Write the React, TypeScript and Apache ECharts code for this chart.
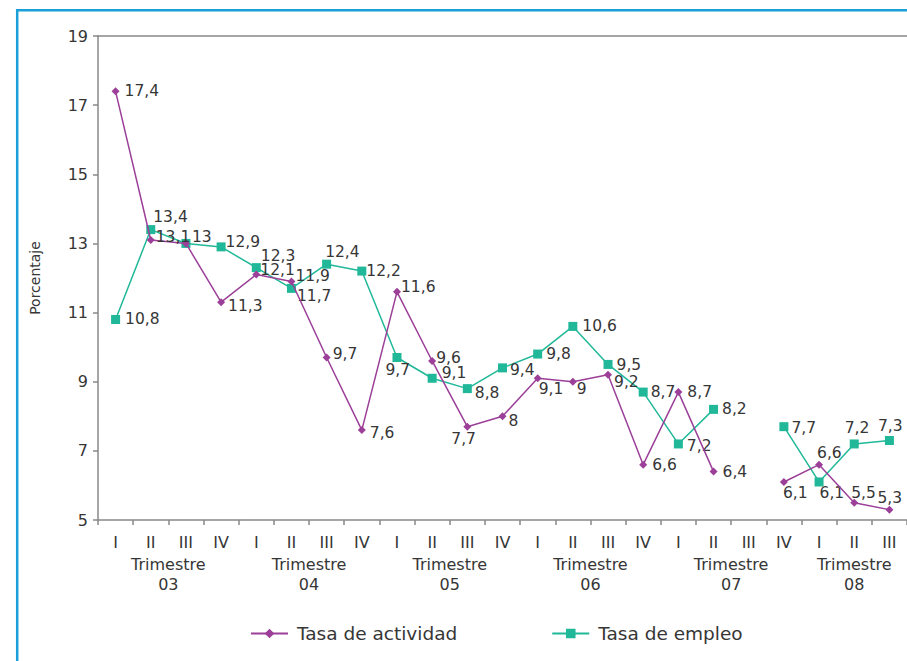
import React, { useEffect, useRef } from 'react';
import * as echarts from 'echarts';

const quarters = ['I', 'II', 'III', 'IV', 'I', 'II', 'III', 'IV', 'I', 'II', 'III', 'IV', 'I', 'II', 'III', 'IV', 'I', 'II', 'III', 'IV', 'I', 'II', 'III'];
const years = ['03', '04', '05', '06', '07', '08'];
const quartersPerYear = [4, 4, 4, 4, 4, 3];
const tasaActividad: (number | null)[] = [17.4, 13.1, 13, 11.3, 12.1, 11.9, 9.7, 7.6, 11.6, 9.6, 7.7, 8, 9.1, 9, 9.2, 6.6, 8.7, 6.4, null, 6.1, 6.6, 5.5, 5.3];
const tasaEmpleo: (number | null)[] = [10.8, 13.4, 13, 12.9, 12.3, 11.7, 12.4, 12.2, 9.7, 9.1, 8.8, 9.4, 9.8, 10.6, 9.5, 8.7, 7.2, 8.2, null, 7.7, 6.1, 7.2, 7.3];
const yTicks = [5, 7, 9, 11, 13, 15, 17, 19];

// label placement tweaks (style only)
const actOffsets: (number[] | null)[] = [
  [0, 0], [-4, -3], [-3, -6], [-2, 4], [-5, -5], [-5, -5], [-3, -4], [-1, 3], [-5, -5], [-5, -3], [-25, 12], [-3, 5],
  [-8, 11], [-5, 7], [-3, 7], [0, 0], [0, 0], [0, 0], null, [-10, 11], [-11, -12], [-12, -10], [-21, -12],
];
const empOffsets: (number[] | null)[] = [
  [0, 0], [-7, -13], null, [-5, -5], [-5, -12], [-4, 8], [-11, -12], [-5, 0], [-21, 12], [0, -5], [-2, 4], [-2, 2],
  [-1, 0], [0, 0], [-1, 1], [-2, 0], [-1, 2], [-1, 0], null, [-2, 1], [-9, 11], [-19, -16], [-21, -14],
];

const PURPLE = '#9b3f98';
const TEAL = '#20b898';
const TEXT = '#363636';
const AXIS = '#888888';
const FONT = '"DejaVu Sans", "Liberation Sans", Arial, sans-serif';

const fmt = (v: number) => String(v).replace('.', ',');

function buildData(values: (number | null)[], offsets: (number[] | null)[]) {
  return values.map((v, i) => {
    if (v == null) return '-';
    const off = offsets[i];
    return {
      value: v,
      label: off ? { show: true, offset: off } : { show: false },
    };
  });
}

const yearCenters: number[] = [];
{
  let start = 0;
  quartersPerYear.forEach((n) => {
    yearCenters.push(start + n / 2);
    start += n;
  });
}

export default function App() {
  const ref = useRef<HTMLDivElement>(null);
  useEffect(() => {
    if (!ref.current) return;
    const chart = echarts.init(ref.current, undefined, { renderer: 'svg' });
    const labelStyle = {
      show: true,
      position: 'right',
      distance: 5,
      fontSize: 15.5,
      color: TEXT,
      fontFamily: FONT,
      formatter: (p: any) => fmt(p.value),
    };
    chart.setOption({
      animation: false,
      backgroundColor: '#ffffff',
      textStyle: { fontFamily: FONT },
      graphic: [
        {
          type: 'rect',
          silent: true,
          z: -10,
          shape: { x: 17.2, y: 10.3, width: 1400, height: 1400 },
          style: { fill: 'none', stroke: '#1a9fd8', lineWidth: 2.5 },
        },
      ],
      grid: { left: 98, right: 0, top: 36, bottom: 141 },
      legend: {
        left: 250,
        top: 624,
        padding: 0,
        itemWidth: 37,
        itemHeight: 12,
        itemGap: 94,
        textStyle: { fontSize: 18.5, color: TEXT, fontFamily: FONT, padding: [0, 0, 0, 4] },
        data: ['Tasa de actividad', 'Tasa de empleo'],
      },
      xAxis: [
        {
          type: 'category',
          data: quarters,
          boundaryGap: true,
          position: 'bottom',
          axisLine: { lineStyle: { color: AXIS, width: 1.5 } },
          axisTick: { show: true, length: 5, lineStyle: { color: AXIS, width: 1.5 } },
          axisLabel: { color: TEXT, fontSize: 16, margin: 14, fontFamily: FONT, interval: 0 },
          splitLine: { show: false },
        },
        {
          type: 'value',
          min: 0,
          max: quarters.length,
          position: 'bottom',
          axisLine: { show: false },
          axisTick: { show: false },
          splitLine: { show: false },
          axisLabel: {
            customValues: yearCenters,
            color: TEXT,
            fontSize: 16,
            lineHeight: 20,
            margin: 34,
            fontFamily: FONT,
            formatter: (v: number) => {
              const idx = yearCenters.indexOf(v);
              return idx >= 0 ? 'Trimestre\n' + years[idx] : '';
            },
          },
        },
        {
          type: 'category',
          data: quarters,
          position: 'top',
          axisLine: { show: true, lineStyle: { color: AXIS, width: 1.5 } },
          axisTick: { show: false },
          axisLabel: { show: false },
          splitLine: { show: false },
        },
      ],
      yAxis: {
        type: 'value',
        min: 5,
        max: 19,
        name: 'Porcentaje',
        nameLocation: 'middle',
        nameRotate: 90,
        nameGap: 56,
        nameTextStyle: { fontSize: 14, color: TEXT, fontFamily: FONT },
        axisLine: { show: true, lineStyle: { color: AXIS, width: 1.5 } },
        axisTick: { show: true, length: 5, customValues: yTicks, lineStyle: { color: AXIS, width: 1.5 } },
        axisLabel: { customValues: yTicks, color: TEXT, fontSize: 16, margin: 10, fontFamily: FONT },
        splitLine: { show: false },
      },
      series: [
        {
          name: 'Tasa de actividad',
          type: 'line',
          xAxisIndex: 0,
          z: 3,
          data: buildData(tasaActividad, actOffsets),
          symbol: 'diamond',
          symbolSize: 8,
          connectNulls: false,
          lineStyle: { color: PURPLE, width: 1.5 },
          itemStyle: { color: PURPLE },
          label: labelStyle,
        },
        {
          name: 'Tasa de empleo',
          type: 'line',
          xAxisIndex: 0,
          z: 2,
          data: buildData(tasaEmpleo, empOffsets),
          symbol: 'rect',
          symbolSize: 9,
          connectNulls: false,
          lineStyle: { color: TEAL, width: 1.5 },
          itemStyle: { color: TEAL },
          label: labelStyle,
        },
      ],
    });
    return () => chart.dispose();
  }, []);
  return (
    <div
      ref={ref}
      style={{ position: 'fixed', left: 0, top: 0, width: 907, height: 661, background: '#fff' }}
    />
  );
}
